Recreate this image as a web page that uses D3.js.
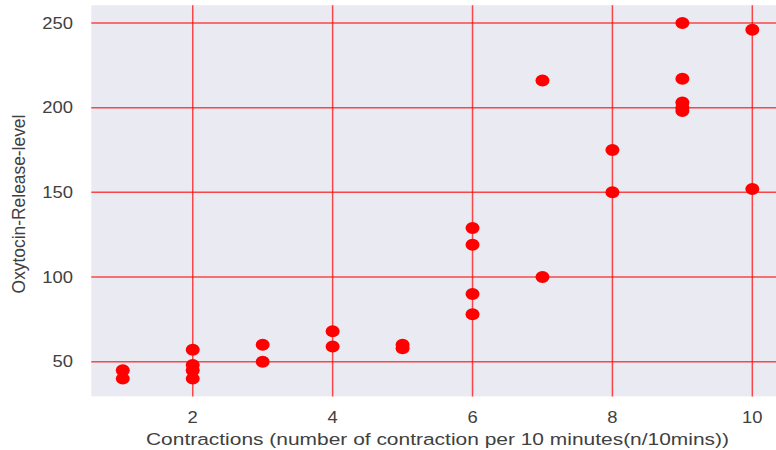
<!DOCTYPE html>
<html>
<head>
<meta charset="utf-8">
<script src="https://cdn.jsdelivr.net/npm/d3@7"></script>
<style>
  html, body { margin: 0; padding: 0; background: #ffffff; }
  svg { display: block; }
  text { font-family: "Liberation Sans", Arial, sans-serif; fill: #404040; }
</style>
</head>
<body>
<svg id="chart" width="776" height="450"></svg>
<script>
// Data (contractions per 10 min, oxytocin release level)
const contractions = [1, 1, 2, 2, 2, 2, 3, 3, 4, 4, 5, 5, 6, 6, 6, 6, 7, 7, 8, 8, 9, 9, 9, 9, 9, 10, 10];
const oxytocin     = [45, 40, 57, 48, 45, 40, 60, 50, 68, 59, 60, 58, 129, 119, 90, 78, 216, 100, 175, 150, 250, 217, 203, 200, 198, 246, 152];
const xTicks = [2, 4, 6, 8, 10];
const yTicks = [50, 100, 150, 200, 250];
const xLabel = "Contractions (number of contraction per 10 minutes(n/10mins))";
const yLabel = "Oxytocin-Release-level";

const svg = d3.select("#chart");
const plotLeft = 91.3, plotTop = 5.2, plotBottom = 396.4;
const xMin = 0.55, xMax = 10.45;
const pxPerX = 69.95;
const x = d3.scaleLinear().domain([xMin, xMax]).range([plotLeft, plotLeft + (xMax - xMin) * pxPerX]);
const y = d3.scaleLinear().domain([29.5, 260.5]).range([plotBottom, plotTop]);
const plotRight = x.range()[1];

svg.append("rect")
  .attr("x", plotLeft).attr("y", plotTop)
  .attr("width", plotRight - plotLeft).attr("height", plotBottom - plotTop)
  .attr("fill", "#EAEAF2");

const grid = svg.append("g");
grid.selectAll("line.h").data(yTicks).enter().append("line")
  .attr("x1", plotLeft).attr("x2", plotRight)
  .attr("y1", d => y(d)).attr("y2", d => y(d))
  .attr("stroke", "#ff0000").attr("stroke-opacity", 0.7).attr("stroke-width", 1.5);
grid.selectAll("line.v").data(xTicks).enter().append("line")
  .attr("y1", plotTop).attr("y2", plotBottom)
  .attr("x1", d => x(d)).attr("x2", d => x(d))
  .attr("stroke", "#ff0000").attr("stroke-opacity", 0.7).attr("stroke-width", 1.5);

const pts = contractions.map((c, i) => ({c, o: oxytocin[i]}));
svg.append("g").selectAll("ellipse").data(pts).enter().append("ellipse")
  .attr("cx", d => x(d.c)).attr("cy", d => y(d.o))
  .attr("rx", 7).attr("ry", 6)
  .attr("fill", "#ff0000");

const sx = 1.15;
// y tick labels
svg.append("g").selectAll("text").data(yTicks).enter().append("text")
  .attr("transform", d => `translate(73,${y(d)}) scale(${sx},1)`)
  .attr("text-anchor", "end").attr("dy", "0.35em")
  .style("font-size", "16px")
  .text(d => d);
// x tick labels
svg.append("g").selectAll("text").data(xTicks).enter().append("text")
  .attr("transform", d => `translate(${x(d)},417) scale(${sx},1)`)
  .attr("text-anchor", "middle").attr("dy", "0.35em")
  .style("font-size", "16px")
  .text(d => d);
// axis labels
svg.append("text")
  .attr("transform", `translate(437.5,439) scale(1.27,1)`)
  .attr("text-anchor", "middle").attr("dy", "0.35em")
  .style("font-size", "16.5px")
  .text(xLabel);
svg.append("text")
  .attr("transform", `translate(19,204) rotate(-90) scale(1,1.05)`)
  .attr("text-anchor", "middle").attr("dy", "0.35em")
  .style("font-size", "17.4px")
  .text(yLabel);
</script>
</body>
</html>
